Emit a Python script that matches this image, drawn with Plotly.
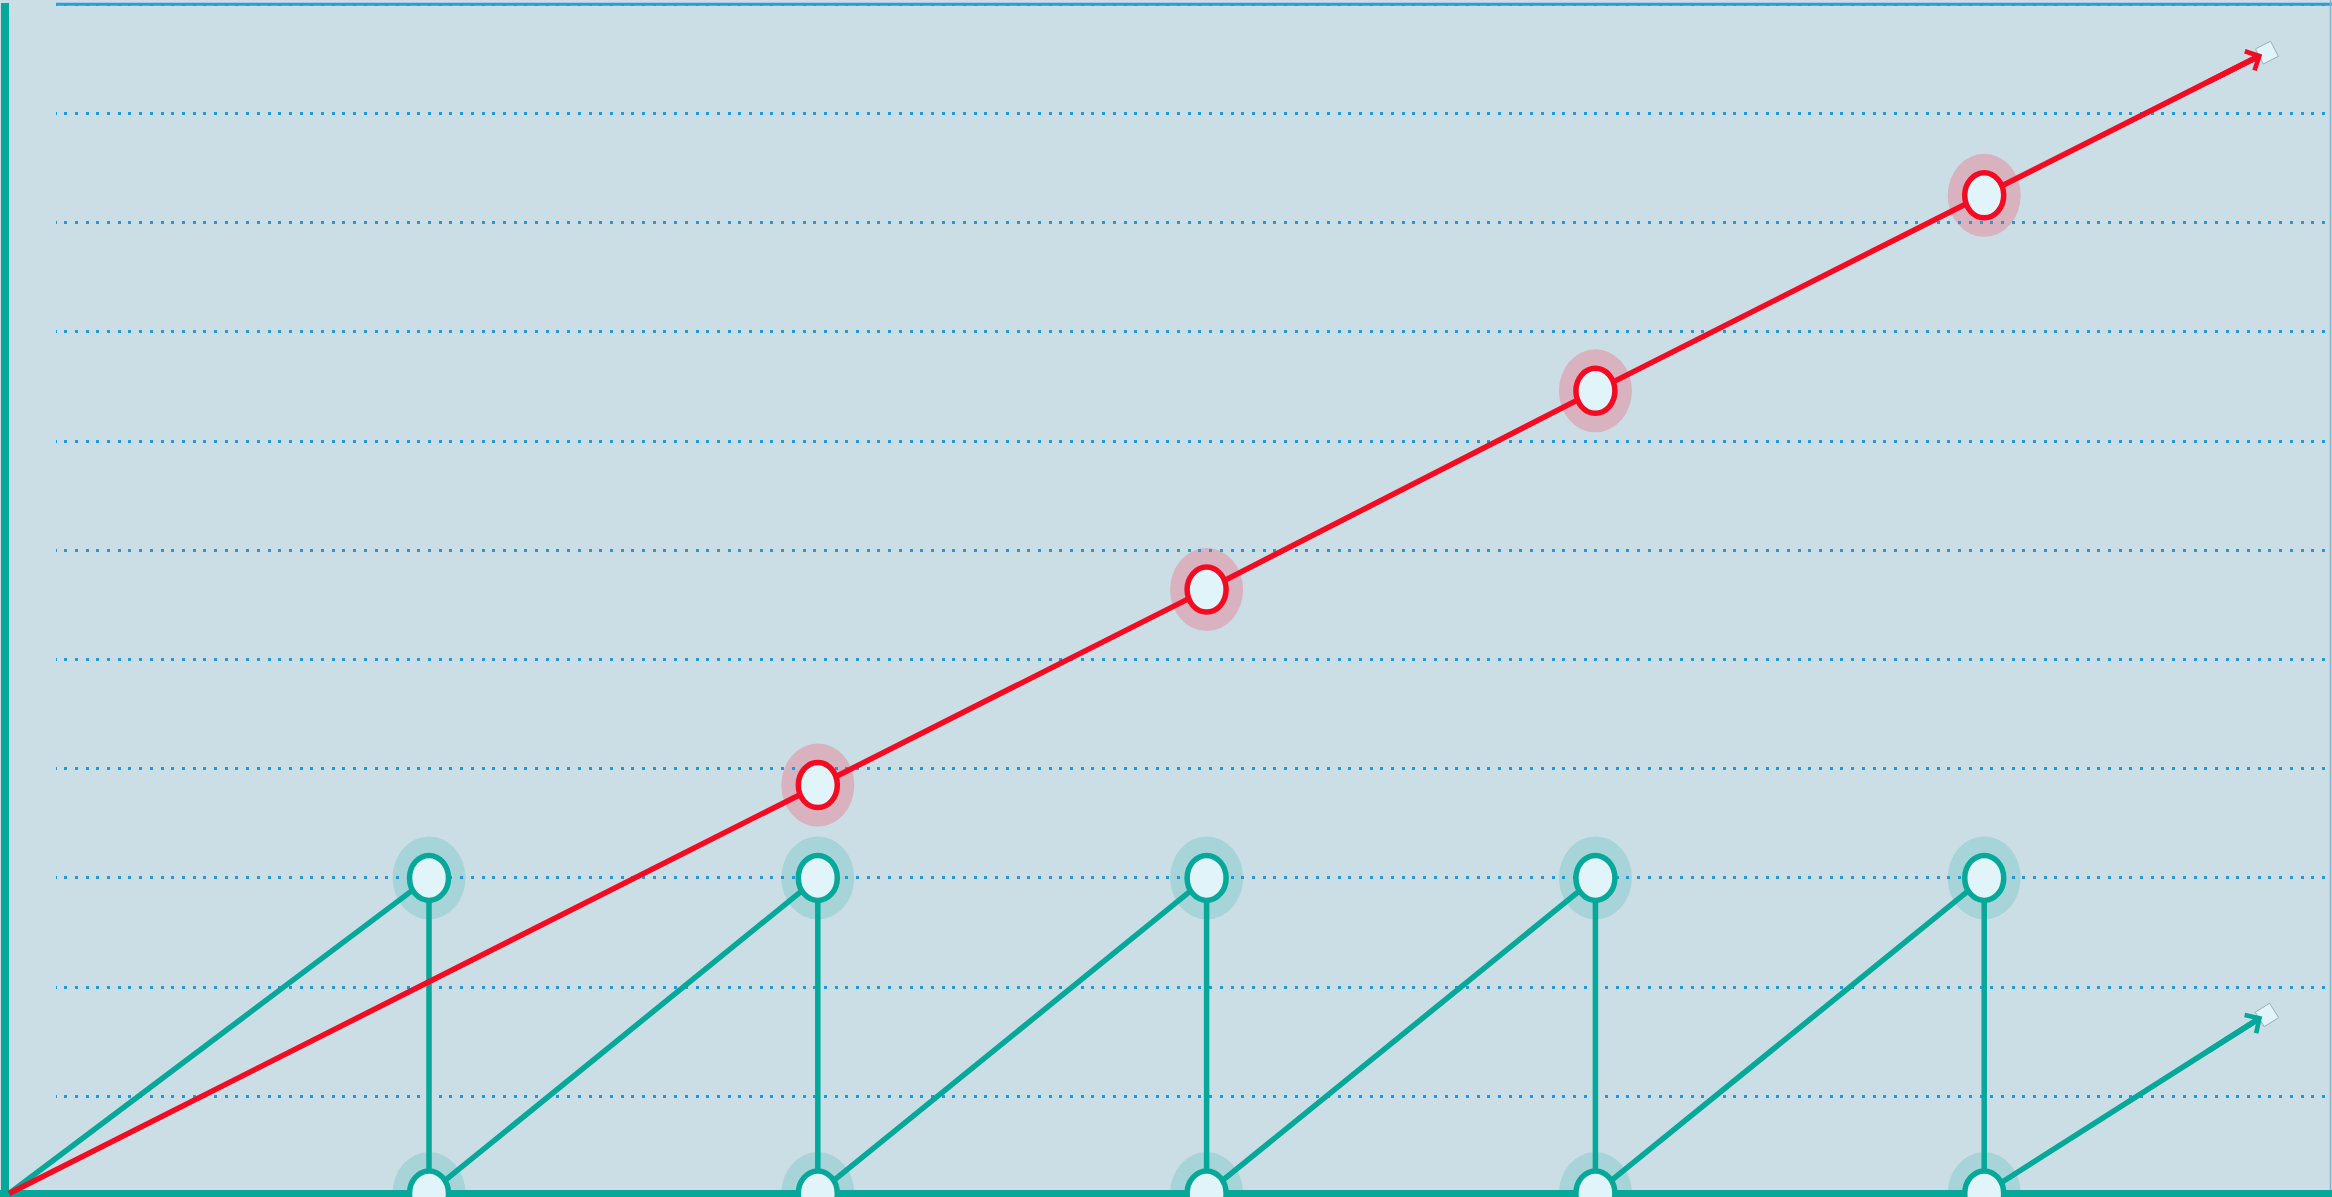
import plotly.graph_objects as go

# ---------------- data ----------------
periods = [1, 2, 3, 4, 5]                      # x position of each cycle
stock_peaks = [3.0, 3.0, 3.0, 3.0, 3.0]        # teal sawtooth: level reached in each cycle
baseline = 0.11                                # level both series start from / drop back to
origin_x = -0.08                               # x where both series start
cumulative_x = [2, 3, 4, 5]                    # red cumulative series x
cumulative_values = [3.85, 5.64, 7.46, 9.25]   # red cumulative series values
teal_arrow_end = [5.715, 1.73]                 # end of the teal arrow
red_arrow_end = [5.715, 10.54]                 # end of the red arrow
teal_cap = [5.727, 1.745]                      # small square cap beyond the teal arrow
red_cap = [5.727, 10.557]                      # small square cap beyond the red arrow
grid_top = 11                                  # top (solid) grid level

# ---------------- styles ----------------
W, H = 2332, 1197
BG = "#cbdee5"
TEAL = "#06a899"
RED = "#f40b22"
FILL = "#e1f4f9"
TEAL_HALO = "#a6d4d8"
RED_HALO = "#d8b2be"
GRID = "#1f9ae0"
LW = 5.5

X_RANGE = [-0.1034, 5.8945]
Y_RANGE = [0.0778, 11.039]


def px_x(px):
    return X_RANGE[0] + (X_RANGE[1] - X_RANGE[0]) * px / W


def px_y(py):
    return Y_RANGE[1] - (Y_RANGE[1] - Y_RANGE[0]) * py / H


# teal sawtooth path
teal_x = [origin_x]
teal_y = [baseline]
for p, pk in zip(periods, stock_peaks):
    teal_x += [p, p]
    teal_y += [pk, baseline]
teal_x.append(teal_arrow_end[0])
teal_y.append(teal_arrow_end[1])

# red cumulative path
red_x = [origin_x] + cumulative_x + [red_arrow_end[0]]
red_y = [baseline] + cumulative_values + [red_arrow_end[1]]

fig = go.Figure()
fig.add_trace(go.Scatter(x=teal_x, y=teal_y, mode="lines",
                         line=dict(color=TEAL, width=LW), hoverinfo="skip", showlegend=False))
fig.add_trace(go.Scatter(x=red_x, y=red_y, mode="lines",
                         line=dict(color=RED, width=LW), hoverinfo="skip", showlegend=False))
fig.add_trace(go.Scatter(x=[teal_cap[0], red_cap[0]], y=[teal_cap[1], red_cap[1]], mode="markers",
                         marker=dict(symbol="square", size=17, angle=[-32, -27], color=FILL,
                                     line=dict(color="#98aeb8", width=1)),
                         hoverinfo="skip", showlegend=False, cliponaxis=False))

shapes = []
# hide grid on the far-left strip
shapes.append(dict(type="rect", xref="x", yref="y", x0=px_x(-5), x1=px_x(56), y0=px_y(H + 5), y1=px_y(-5),
                   fillcolor=BG, line=dict(width=0), layer="between"))
# top solid rule
shapes.append(dict(type="line", xref="x", yref="y", x0=px_x(56), x1=px_x(W), y0=grid_top, y1=grid_top,
                   line=dict(color="#2a9ddb", width=3), layer="between"))
# right border
shapes.append(dict(type="line", xref="x", yref="y", x0=px_x(W - 1.5), x1=px_x(W - 1.5),
                   y0=px_y(H), y1=px_y(0),
                   line=dict(color="#86b3cb", width=1.5), layer="between"))
# left axis
shapes.append(dict(type="line", xref="x", yref="y", x0=px_x(5), x1=px_x(5), y0=px_y(H), y1=px_y(3),
                   line=dict(color=TEAL, width=8), layer="between"))
# bottom axis
shapes.append(dict(type="line", xref="x", yref="y", x0=px_x(0), x1=px_x(W), y0=px_y(H - 3.5), y1=px_y(H - 3.5),
                   line=dict(color=TEAL, width=7), layer="between"))


def add_marker(x, y, color, halo):
    shapes.append(dict(type="circle", xref="x", yref="y", xsizemode="pixel", ysizemode="pixel",
                       xanchor=x, yanchor=y, x0=-36.5, x1=36.5, y0=-41.5, y1=41.5,
                       fillcolor=halo, line=dict(width=0), layer="below"))
    shapes.append(dict(type="circle", xref="x", yref="y", xsizemode="pixel", ysizemode="pixel",
                       xanchor=x, yanchor=y, x0=-19.5, x1=19.5, y0=-22.5, y1=22.5,
                       fillcolor=FILL, line=dict(color=color, width=5.5), layer="above"))


for p, pk in zip(periods, stock_peaks):
    add_marker(p, pk, TEAL, TEAL_HALO)
    add_marker(p, baseline, TEAL, TEAL_HALO)
for cx, cv in zip(cumulative_x, cumulative_values):
    add_marker(cx, cv, RED, RED_HALO)


def arrow(end, start, color):
    # short tail along the final segment so the arrow only draws the head region
    tx = end[0] - 0.2 * (end[0] - start[0])
    ty = end[1] - 0.2 * (end[1] - start[1])
    return dict(x=end[0], y=end[1], ax=tx, ay=ty,
                xref="x", yref="y", axref="x", ayref="y", text="", showarrow=True,
                arrowhead=4, arrowsize=0.75, arrowwidth=LW, arrowcolor=color)


annotations = [
    arrow(teal_arrow_end, [periods[-1], baseline], TEAL),
    arrow(red_arrow_end, [cumulative_x[-1], cumulative_values[-1]], RED),
]

fig.update_layout(
    width=W, height=H,
    margin=dict(l=0, r=0, t=0, b=0, pad=0),
    paper_bgcolor=BG, plot_bgcolor=BG,
    showlegend=False,
    shapes=shapes,
    annotations=annotations,
    xaxis=dict(range=X_RANGE, showgrid=False, zeroline=False, showticklabels=False,
               ticks="", showline=False, fixedrange=True),
    yaxis=dict(range=Y_RANGE, showgrid=True, gridcolor=GRID, gridwidth=3, griddash="3px,7.7px",
               tick0=0, dtick=1, zeroline=False, showticklabels=False, ticks="",
               showline=False, fixedrange=True),
)

fig.write_html("out.html", config={"displayModeBar": False, "staticPlot": True},
               post_script="document.body.style.margin='0';document.body.style.overflow='hidden';")
